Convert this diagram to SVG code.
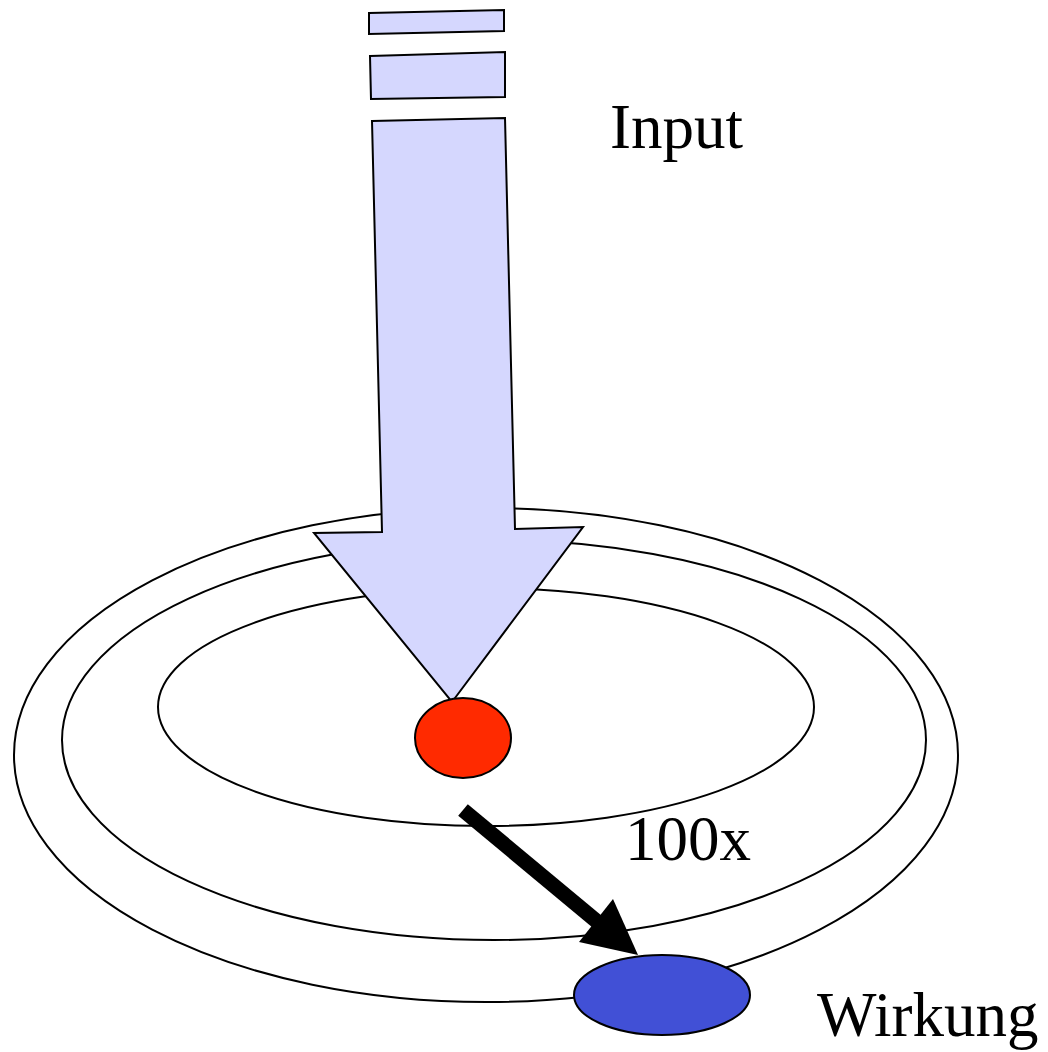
<svg xmlns="http://www.w3.org/2000/svg" width="1048" height="1052" viewBox="0 0 1048 1052">
<style>
.ring{fill:none;stroke:#000;stroke-width:2}
.flow{fill:#d5d7fe;stroke:#000;stroke-width:2;stroke-linejoin:miter}
.lbl{font-family:"Liberation Serif","Times New Roman",serif;font-size:63px;fill:#000}
</style>
<rect width="1048" height="1052" fill="#fff"/>
<g id="rings">
<ellipse class="ring" cx="486" cy="755" rx="472" ry="247"/>
<ellipse class="ring" cx="494" cy="740" rx="432" ry="200"/>
<ellipse class="ring" cx="486" cy="707" rx="328" ry="119"/>
</g>
<g id="input-arrow">
<polygon class="flow" points="369,13 504,10 504,31 369,34"/>
<polygon class="flow" points="370,56 505,52 505,97 371,99"/>
<polygon class="flow" points="372,121 505,118 515,529 583,527 452,702 314,533 382,532"/>
</g>
<g id="red-node"><ellipse cx="463" cy="738" rx="48" ry="40" fill="#ff2a00" stroke="#000" stroke-width="2"/></g>
<g id="blue-node"><ellipse cx="662" cy="995" rx="88" ry="40" fill="#4150d6" stroke="#000" stroke-width="2"/></g>
<g id="connectors">
<line x1="463" y1="810" x2="600" y2="924" stroke="#000" stroke-width="15"/>
<polygon points="579,942 613,899 638,955" fill="#000"/>
</g>
<g id="labels">
<text class="lbl" x="610" y="148">Input</text>
<text class="lbl" x="625" y="860">100x</text>
<text class="lbl" x="817" y="1036">Wirkung</text>
</g>
</svg>
